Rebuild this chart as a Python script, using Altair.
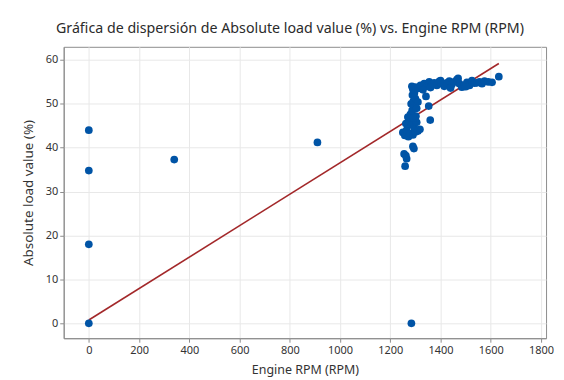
import altair as alt
import pandas as pd

# Engine RPM values
rpm = [
    0, 0, 0, 0, 340, 910, 1284,
    1259, 1265, 1255, 1262, 1294, 1290,
    1250, 1258, 1265, 1272, 1280, 1290, 1300, 1310, 1318,
    1262, 1275, 1285, 1295, 1305, 1270, 1280, 1292, 1302,
    1287, 1298, 1283, 1292, 1300, 1288, 1296, 1310, 1305,
    1359, 1353, 1342,
    1290, 1286, 1300, 1310,
    1320, 1335, 1345, 1355, 1365, 1375, 1385, 1395, 1405, 1415,
    1425, 1435, 1445, 1455, 1465, 1475, 1485, 1495, 1505, 1515,
    1525, 1535, 1545, 1555, 1565, 1575, 1590, 1605, 1632,
    1440, 1500, 1360, 1470, 1400, 1330,
]
# Absolute load values (%)
load = [
    44.0, 34.8, 18.0, 0.0, 37.3, 41.2, 0.0,
    35.8, 37.5, 38.6, 38.2, 39.8, 40.3,
    43.5, 42.8, 44.0, 42.5, 43.2, 42.9, 43.6, 43.8, 44.2,
    45.5, 46.0, 45.2, 44.6, 45.8, 47.0, 47.6, 46.8, 47.2,
    48.5, 48.9, 50.0, 50.6, 51.2, 52.0, 52.5, 50.4, 49.0,
    46.3, 49.5, 51.7,
    53.3, 54.0, 53.8, 53.5,
    54.2, 54.6, 54.0, 55.0, 54.5, 54.8, 54.2, 55.1, 54.6, 54.0,
    54.8, 55.2, 54.4, 55.0, 55.5, 54.6, 53.8, 54.3, 54.9, 54.2,
    55.3, 54.7, 54.8, 55.0, 54.6, 55.2, 55.0, 54.9, 56.2,
    53.6, 53.9, 53.7, 55.8, 55.3, 53.2,
]
# Number of overlapping readings at each point (engine-off readings stack at 0, 0)
count = [1, 1, 1, 150, 1, 1, 1] + [1] * (len(rpm) - 7)

x_ticks = [0, 200, 400, 600, 800, 1000, 1200, 1400, 1600, 1800]
y_ticks = [0, 10, 20, 30, 40, 50, 60]

base = pd.DataFrame({"rpm": rpm, "load": load})
df = base.loc[base.index.repeat(count)].reset_index(drop=True)

FONT = "Noto Sans"

x_enc = alt.X(
    "rpm:Q",
    title="Engine RPM (RPM)",
    scale=alt.Scale(domain=[-100, 1820], nice=False, zero=False),
    axis=alt.Axis(values=x_ticks, labelFlush=False, format="d"),
)
y_enc = alt.Y(
    "load:Q",
    title="Absolute load value (%)",
    scale=alt.Scale(domain=[-3.4, 63], nice=False, zero=False),
    axis=alt.Axis(values=y_ticks, titleFontSize=13.5),
)

points = alt.Chart(base).mark_circle(size=60, opacity=1, color="#0054A6").encode(
    x=x_enc, y=y_enc
)

line = (
    alt.Chart(df)
    .transform_regression("rpm", "load")
    .mark_line(color="#A3282A", strokeWidth=1.6)
    .encode(x="rpm:Q", y="load:Q")
)

chart = (
    alt.layer(line, points)
    .properties(
        width=485,
        height=293,
        autosize=alt.AutoSizeParams(type="none"),
        padding={"left": 56, "top": 38, "right": 10, "bottom": 40},
        title=alt.TitleParams(
            "Gráfica de dispersión de Absolute load value (%) vs. Engine RPM (RPM)",
            font=FONT,
            fontSize=14.3,
            fontWeight="normal",
            color="#2B2B2B",
            offset=11,
            dx=-15,
        ),
    )
    .configure_view(stroke="#8C8C8C", strokeWidth=1)
    .configure_axis(
        labelFont=FONT,
        titleFont=FONT,
        labelFontSize=11,
        titleFontSize=12.5,
        titleFontWeight="normal",
        labelColor="#333333",
        titleColor="#333333",
        gridColor="#E8E8E8",
        domainColor="#8C8C8C",
        tickColor="#8C8C8C",
        tickSize=4,
    )
    .configure_axisX(titlePadding=8)
    .configure_axisY(titlePadding=10)
)

chart.save("out.html", embed_options={"renderer": "svg", "actions": False})
